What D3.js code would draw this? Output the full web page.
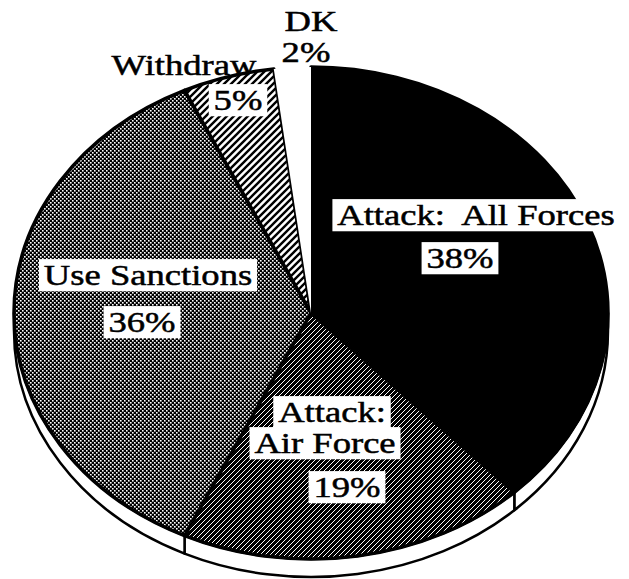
<!DOCTYPE html>
<html>
<head>
<meta charset="utf-8">
<script src="https://cdn.jsdelivr.net/npm/d3@7"></script>
<style>
  body { margin: 0; background: #fff; }
  svg { display: block; }
</style>
</head>
<body>
<div class="chart"></div>
<script>
// Data
var categories = ['Attack:  All Forces', 'Attack: Air Force', 'Use Sanctions', 'Withdraw', 'DK']
var values = [38, 19, 36, 5, 2]
var nameLines = [['Attack:  All Forces'], ['Attack:', 'Air Force'], ['Use Sanctions'], ['Withdraw'], ['DK']]

// Layout (not data)
var width = 629
var height = 579
var cx = 311, cy = 313, rx = 297, ry = 246, depth = 18
var fills = ['#000', 'url(#hatchDark)', 'url(#dots)', 'url(#hatchLight)', '#fff']
// [x, baseline] for each text line of each slice, name lines then percent
var labelPos = [
  [[476, 225], [460, 268]],
  [[332, 422], [325, 453], [347, 497]],
  [[148, 285], [142, 332]],
  [[184, 75], [238, 110]],
  [[311, 31], [306, 62]]
]
var boxed = [
  [true, true],
  [true, true, true],
  [true, true],
  [false, true],
  [false, false]
]

var svg = d3.select('.chart')
  .append('svg')
  .attr('width', width)
  .attr('height', height)

// Patterns
var defs = svg.append('defs')

var p1 = defs.append('pattern')
  .attr('id', 'hatchDark')
  .attr('patternUnits', 'userSpaceOnUse')
  .attr('width', 5).attr('height', 5)
p1.append('rect').attr('width', 5).attr('height', 5).attr('fill', '#000')
p1.append('path')
  .attr('d', 'M-1,1 l2,-2 M0,5 l5,-5 M4,6 l2,-2')
  .attr('stroke', '#fff').attr('stroke-width', 1)

var p2 = defs.append('pattern')
  .attr('id', 'hatchLight')
  .attr('patternUnits', 'userSpaceOnUse')
  .attr('width', 7).attr('height', 7)
p2.append('rect').attr('width', 7).attr('height', 7).attr('fill', '#fff')
p2.append('path')
  .attr('d', 'M-1,1 l2,-2 M0,7 l7,-7 M6,8 l2,-2')
  .attr('stroke', '#000').attr('stroke-width', 2.4)

var p3 = defs.append('pattern')
  .attr('id', 'dots')
  .attr('patternUnits', 'userSpaceOnUse')
  .attr('width', 4).attr('height', 4)
p3.append('rect').attr('width', 4).attr('height', 4).attr('fill', '#000')
p3.append('rect').attr('x', 0).attr('y', 0).attr('width', 1.6).attr('height', 1.6).attr('fill', '#fff')
p3.append('rect').attr('x', 2).attr('y', 2).attr('width', 1.6).attr('height', 1.6).attr('fill', '#fff')

// Pie angles
var pie = d3.pie().sort(null).value(d => d)
var arcs = pie(values)

function pt(a, dy) {
  return [cx + rx * Math.sin(a), cy - ry * Math.cos(a) + (dy || 0)]
}

function topPath(d) {
  var p0 = pt(d.startAngle), p1 = pt(d.endAngle)
  var large = d.endAngle - d.startAngle > Math.PI ? 1 : 0
  return 'M' + cx + ',' + cy + 'L' + p0 + 'A' + rx + ',' + ry + ' 0 ' + large + ' 1 ' + p1 + 'Z'
}

function sidePath(d) {
  var s = Math.max(d.startAngle, Math.PI / 2)
  var e = Math.min(d.endAngle, Math.PI * 3 / 2)
  if (s >= e) return null
  return 'M' + pt(s) + 'A' + rx + ',' + ry + ' 0 0 1 ' + pt(e) +
    'L' + pt(e, depth) + 'A' + rx + ',' + ry + ' 0 0 0 ' + pt(s, depth) + 'Z'
}

// Side of the pie
svg.append('g')
  .selectAll('path')
  .data(arcs.filter(d => sidePath(d)))
  .enter()
  .append('path')
  .attr('d', sidePath)
  .attr('fill', '#fff')
  .attr('stroke', '#000')
  .attr('stroke-width', 2.5)
  .attr('stroke-linejoin', 'round')

// Top faces
svg.append('g')
  .selectAll('path')
  .data(arcs)
  .enter()
  .append('path')
  .attr('d', topPath)
  .attr('fill', (d, i) => fills[i])
  .attr('stroke', (d, i) => i === 4 ? 'none' : '#000')
  .attr('stroke-width', 3.5)
  .attr('stroke-linejoin', 'round')

// Labels
var labels = svg.append('g')
arcs.forEach(function(d, i) {
  var lines = nameLines[i].concat([values[i] + '%'])
  lines.forEach(function(txt, j) {
    var pos = labelPos[i][j]
    var g = labels.append('g')
      .attr('transform', 'translate(' + pos[0] + ',' + pos[1] + ') scale(1.22,1)')
    var t = g.append('text')
      .attr('text-anchor', 'middle')
      .style('font-family', '"Liberation Serif", "Times New Roman", serif')
      .style('font-size', '30px')
      .style('white-space', 'pre')
      .attr('fill', '#000')
      .attr('stroke', '#000')
      .attr('stroke-width', 0.5)
      .text(txt)
    if (boxed[i][j]) {
      var bb = t.node().getBBox()
      g.insert('rect', 'text')
        .attr('x', bb.x - 4)
        .attr('y', bb.y + 1)
        .attr('width', bb.width + 8)
        .attr('height', bb.height - 1)
        .attr('fill', '#fff')
    }
  })
})
</script>
</body>
</html>
